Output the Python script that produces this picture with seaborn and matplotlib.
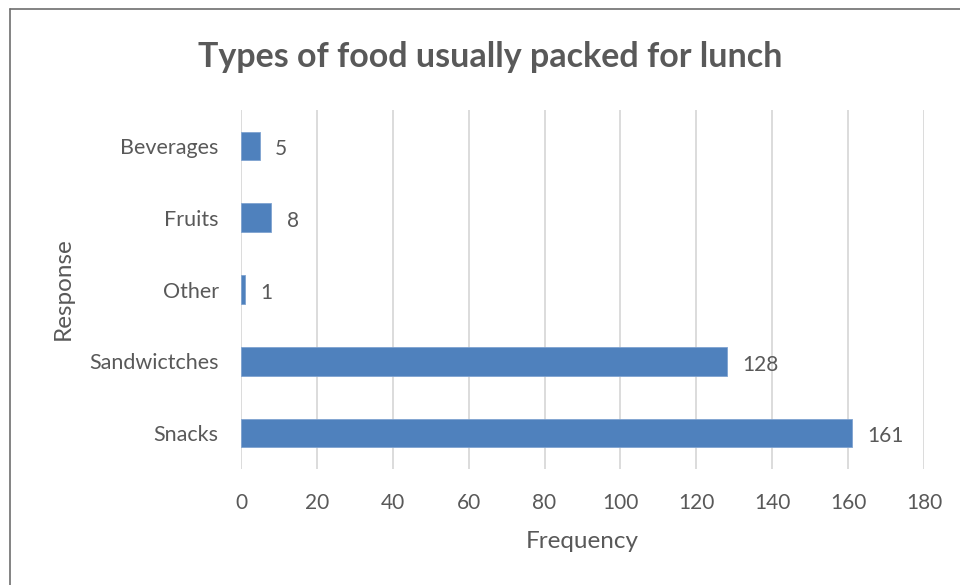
import matplotlib
matplotlib.use("Agg")
import matplotlib.pyplot as plt
import seaborn as sns
import pandas as pd
from matplotlib.lines import Line2D

categories = ["Beverages", "Fruits", "Other", "Sandwictches", "Snacks"]
frequency = [5, 8, 1, 128, 161]
x_ticks = [0, 20, 40, 60, 80, 100, 120, 140, 160, 180]

df = pd.DataFrame({"Response": categories, "Frequency": frequency})

sns.set_theme(style="white")
plt.rcParams["font.family"] = ["Lato", "DejaVu Sans"]

TEXT = "#595959"
BAR = "#4F81BD"
GRID = "#D9D9D9"

fig = plt.figure(figsize=(9.6, 5.85), dpi=100)
ax = fig.add_axes([241 / 960, 1 - 469 / 585, (924 - 241) / 960, (469 - 110) / 585])

sns.barplot(data=df, x="Frequency", y="Response", order=categories, orient="h",
            color=BAR, width=0.4, saturation=1, edgecolor="#7FA3D0", linewidth=0.6,
            ax=ax, zorder=3)

ax.set_xlim(0, 180)
ax.set_xticks(x_ticks)
ax.set_xticklabels([str(t) for t in x_ticks])
ax.grid(axis="x", color=GRID, linewidth=1.3, zorder=0)
ax.grid(axis="y", visible=False)
for s in ax.spines.values():
    s.set_visible(False)
ax.tick_params(axis="x", length=0, labelsize=15, labelcolor=TEXT, pad=17)
ax.tick_params(axis="y", length=0, labelsize=15.5, labelcolor=TEXT, pad=16)

for i, v in enumerate(frequency):
    ax.annotate(str(v), xy=(v, i), xytext=(11, -1), textcoords="offset points",
                ha="left", va="center_baseline", fontsize=15, color=TEXT)

ax.set_xlabel("Frequency", fontsize=17.5, color=TEXT)
ax.set_ylabel("Response", fontsize=17.5, color=TEXT)
ax.xaxis.label.set_va("center")
ax.yaxis.label.set_va("center")
ax.xaxis.set_label_coords((582 - 241) / (924 - 241), -(541 - 469) / (469 - 110))
ax.yaxis.set_label_coords(-(241 - 63) / (924 - 241), 1 - (289 - 110) / (469 - 110))

fig.text(490 / 960, 1 - 57 / 585, "Types of food usually packed for lunch",
         ha="center", va="center", fontsize=24.5, fontweight="bold", color=TEXT)

# outer chart frame (top and left edges)
fig.add_artist(Line2D([10 / 960, 1], [1 - 9 / 585, 1 - 9 / 585], color="#6E6E6E", linewidth=1.2))
fig.add_artist(Line2D([10 / 960, 10 / 960], [0, 1 - 9 / 585], color="#6E6E6E", linewidth=1.2))

fig.savefig("out.png", dpi=100, facecolor="white")
